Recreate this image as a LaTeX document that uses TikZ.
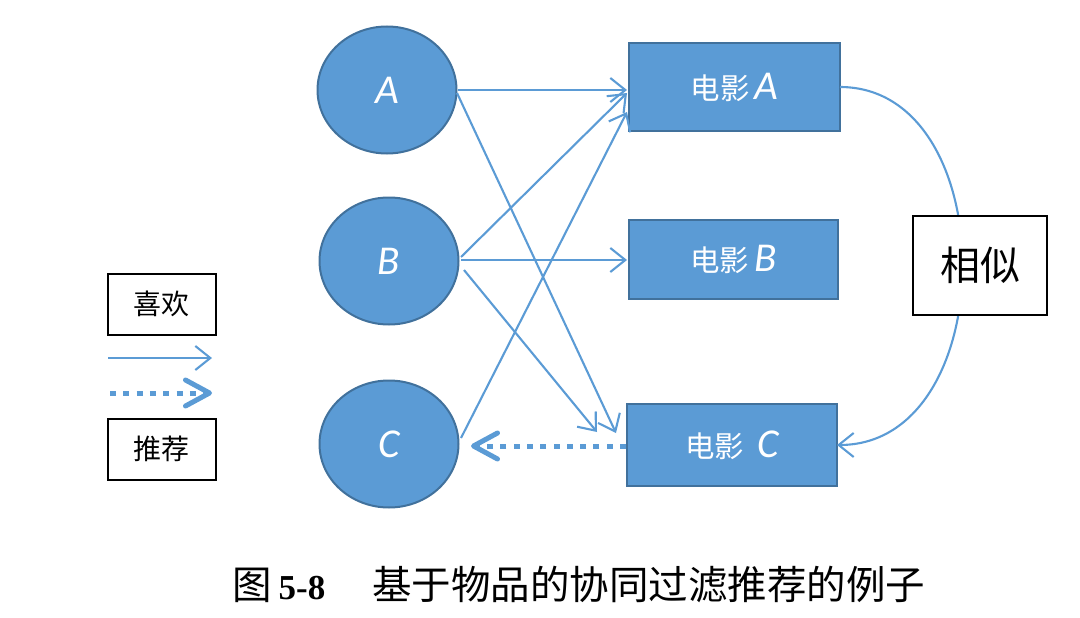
\documentclass[tikz,border=0pt]{standalone}
\usepackage{fontspec}
\setmainfont{Liberation Serif}
\newfontfamily\cjk{Noto Sans CJK SC}
\newfontfamily\latf{Carlito}
\usetikzlibrary{shapes.geometric,arrows.meta}
\definecolor{fillblue}{HTML}{5B9BD5}
\definecolor{edgeblue}{HTML}{41719C}
\definecolor{lineblue}{HTML}{5B9BD5}
\newcommand{\letfont}{\latf\mdseries\itshape\fontsize{41}{41}\selectfont}
\begin{document}
\begin{tikzpicture}[x=1pt,y=-1pt,
  user/.style={ellipse, fill=fillblue, draw=edgeblue, line width=2pt,
    minimum width=139pt, minimum height=127pt, inner sep=0pt, outer sep=0pt,
    text=white, font=\letfont},
  movie/.style={rectangle, fill=fillblue, draw=edgeblue, line width=2pt,
    inner sep=0pt, outer sep=0pt, text=white, font=\cjk\fontsize{29.5}{30}\selectfont},
  like/.style={draw=lineblue, line width=2.1pt,
    -{Straight Barb[length=15pt,width=24pt,line width=2.1pt]}},
  recarrow/.style={draw=lineblue, line width=5pt, dash pattern=on 6pt off 7.3pt,
    -{Straight Barb[length=24pt,width=26pt,line width=5pt,round]}},
  legbox/.style={rectangle, draw=black, line width=2pt, fill=white,
    inner sep=0pt, outer sep=0pt}]
\useasboundingbox (0,0) rectangle (1080,618);

% users
\node[user] (uA) at (387,90) {A};
\node[user] (uB) at (389,261) {B};
\node[user] (uC) at (389,444) {C};

% movies
\node[movie, minimum width=211pt, minimum height=88pt] (mA) at (734.5,87)
  {电影\,{\letfont A}};
\node[movie, minimum width=209pt, minimum height=79pt] (mB) at (733.5,259.5)
  {电影\,{\letfont B}};
\node[movie, minimum width=210pt, minimum height=82pt] (mC) at (732,445)
  {电影\;\,{\letfont C}};

% free ends of connectors
\coordinate (sA1) at (458,90);
\coordinate (sA2) at (457,93);
\coordinate (sB1) at (461,257);
\coordinate (sB2) at (461,260);
\coordinate (sB3) at (464,270);
\coordinate (sC1) at (461,438);
\coordinate (eA1) at (627,90);
\coordinate (eA2) at (627,93);
\coordinate (eA3) at (627,112);
\coordinate (eB1) at (627,260);
\coordinate (eC1) at (597,432);
\coordinate (eC2) at (616,433);
\coordinate (rS) at (626,446);
\coordinate (rE) at (471,446);

\draw[like] (sA1) -- (eA1);
\draw[like] (sA2) -- (eC2);
\draw[like] (sB1) -- (eA2);
\draw[like] (sB2) -- (eB1);
\draw[like] (sB3) -- (eC1);
\draw[like] (sC1) -- (eA3);
\draw[recarrow] (rS) -- (rE);

% similarity arc
\draw[like] (mA.east) .. controls +(164,0) and +(166,0) .. (mC.east);
\node[legbox, minimum width=134pt, minimum height=99pt,
  font=\cjk\fontsize{40}{40}\selectfont] (sim) at (980,265) {相似};

% legend
\node[legbox, minimum width=108pt, minimum height=61pt,
  font=\cjk\fontsize{28}{28}\selectfont] (lk) at (161.5,304) {喜欢};
\node[legbox, minimum width=108pt, minimum height=61pt,
  font=\cjk\fontsize{28}{28}\selectfont] (rc) at (161.5,449) {推荐};
\coordinate (l1s) at (108,358);
\coordinate (l1e) at (212,358);
\coordinate (l2s) at (110,393);
\coordinate (l2e) at (212,393);
\draw[like] (l1s) -- (l1e);
\draw[recarrow] (l2s) -- (l2e);

% caption
\node[anchor=west, inner sep=0pt] (cap) at (232,585)
  {\cjk\fontsize{39.5}{40}\selectfont 图\hspace{7pt}{\rmfamily\bfseries\fontsize{35}{40}\selectfont 5-8}\hspace{47pt}基于物品的协同过滤推荐的例子};
\end{tikzpicture}
\end{document}
